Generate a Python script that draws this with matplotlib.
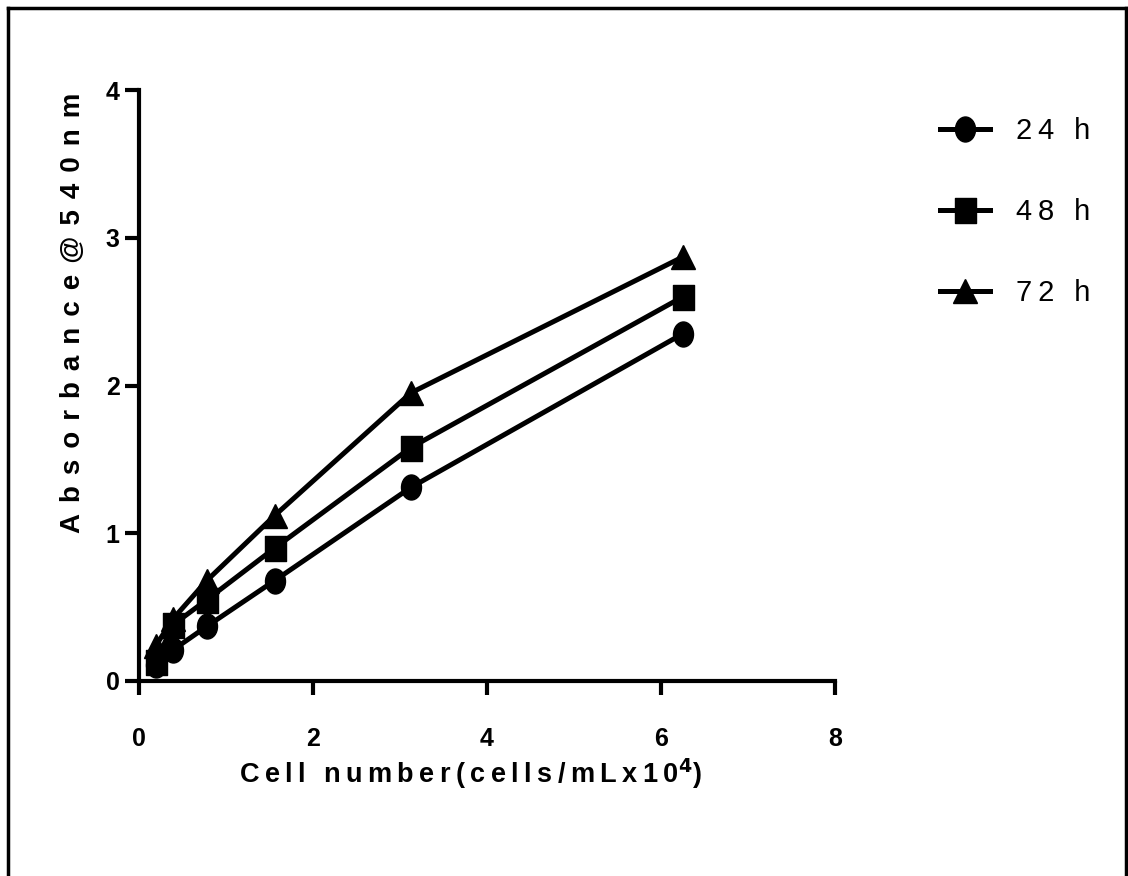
import matplotlib.pyplot as plt
from matplotlib.lines import Line2D
from matplotlib.path import Path
from matplotlib.transforms import Affine2D

cells = [0.195, 0.39, 0.78, 1.56, 3.125, 6.25]
abs24 = [0.11, 0.21, 0.37, 0.68, 1.31, 2.35]
abs48 = [0.13, 0.38, 0.55, 0.90, 1.58, 2.60]
abs72 = [0.24, 0.42, 0.68, 1.12, 1.95, 2.87]
labels = ["24 h", "48 h", "72 h"]


def spaced(s, sep="\u2009"):
    return sep.join(s)


narrow = ['Liberation Sans Narrow', 'Liberation Sans', 'DejaVu Sans']
plt.rcParams['font.family'] = narrow
plt.rcParams['mathtext.fontset'] = 'custom'
plt.rcParams['mathtext.bf'] = 'Liberation Sans Narrow:bold'
plt.rcParams['mathtext.default'] = 'bf'

# slightly tall markers like the original
ellipse = Path.unit_circle().transformed(Affine2D().scale(0.8, 1.0))
tallsq = Path([(-0.42, -0.5), (0.42, -0.5), (0.42, 0.5), (-0.42, 0.5), (-0.42, -0.5)],
              [Path.MOVETO, Path.LINETO, Path.LINETO, Path.LINETO, Path.CLOSEPOLY])

fig = plt.figure(figsize=(11.28, 8.76), dpi=100)
ax = fig.add_axes([139/1128, 1 - 681/876, (835-139)/1128, (681-90)/876])

ax.plot(cells, abs24, color='black', lw=3.6, marker=ellipse, ms=18, label=spaced(labels[0]))
ax.plot(cells, abs48, color='black', lw=3.6, marker=tallsq, ms=18, label=spaced(labels[1]))
ax.plot(cells, abs72, color='black', lw=3.6, marker='^', ms=17, label=spaced(labels[2]))

ax.set_xlim(0, 8)
ax.set_ylim(0, 4)
ax.set_xticks([0, 2, 4, 6, 8])
ax.set_yticks([0, 1, 2, 3, 4])
for s in ['top', 'right']:
    ax.spines[s].set_visible(False)
for s in ['left', 'bottom']:
    ax.spines[s].set_linewidth(3)
ax.tick_params(width=3, length=10, labelsize=18)
ax.tick_params(axis='x', pad=23)
ax.tick_params(axis='y', pad=4)
for t in ax.get_xticklabels() + ax.get_yticklabels():
    t.set_fontweight('bold')

ax.set_xlabel(spaced("Cell number(cells/mLx10") + "$^{4}$" + ")",
              fontsize=19.5, fontweight='bold')
ax.xaxis.set_label_coords(0.476, -0.127)

ax.set_ylabel(spaced("Absorbance@540nm", "\u2009\u2009"), fontsize=20,
              fontweight='bold', family=['Liberation Sans', 'DejaVu Sans'])
ax.yaxis.label.set_va('center')
ax.yaxis.set_label_coords(-0.095, 0.623)

ax.legend(loc='upper left', bbox_to_anchor=(940/1128, 1 - 117/876),
          bbox_transform=fig.transFigure, frameon=False, fontsize=21,
          handlelength=1.7, labelspacing=1.82, handletextpad=0.9,
          borderpad=0, borderaxespad=0)

# frame around the figure
fig.add_artist(Line2D([8/1128, 8/1128], [0, 1 - 8/876], color='black', lw=2.5))
fig.add_artist(Line2D([8/1128, 1126/1128], [1 - 8/876, 1 - 8/876], color='black', lw=2.5))
fig.add_artist(Line2D([1126/1128, 1126/1128], [0, 1 - 8/876], color='black', lw=2.5))

fig.savefig('out.png', dpi=100)
